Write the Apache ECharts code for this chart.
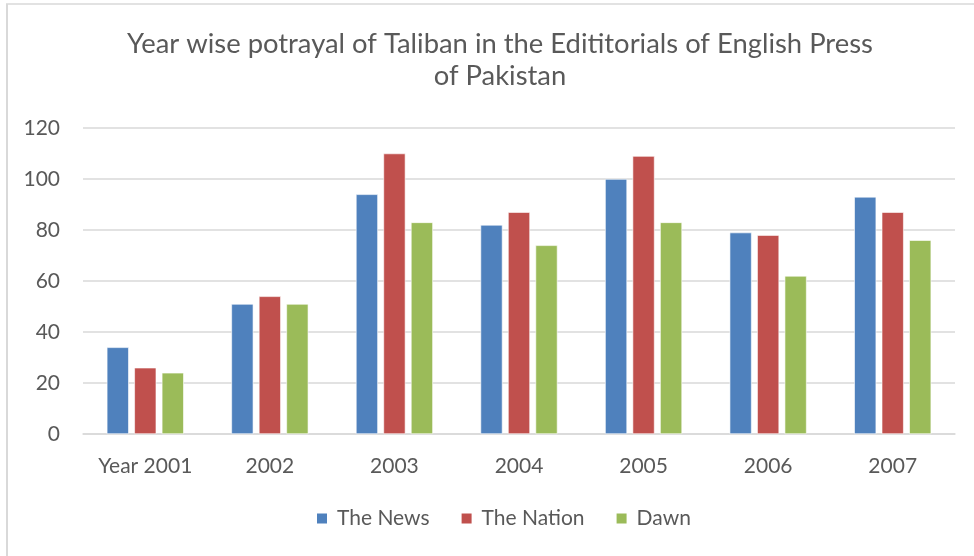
<!DOCTYPE html>
<html>
<head>
<meta charset="utf-8">
<script src="https://cdn.jsdelivr.net/npm/echarts@6/dist/echarts.min.js"></script>
<style>
  html, body { margin: 0; padding: 0; background: #fff; }
  #chart { width: 974px; height: 556px; }
</style>
</head>
<body>
<div id="chart"></div>
<script>
// categories and series
const years = ['Year 2001', '2002', '2003', '2004', '2005', '2006', '2007']
const theNews = [34, 51, 94, 82, 100, 79, 93]
const theNation = [26, 54, 110, 87, 109, 78, 87]
const dawn = [24, 51, 83, 74, 83, 62, 76]

const font = 'Lato, "Open Sans", sans-serif'
const textColor = '#595959'

const chart = echarts.init(document.getElementById('chart'))

const option = {
    animation: false,
    color: ['#4F81BD', '#C0504D', '#9BBB59'],
    title: {
        text: 'Year wise potrayal of Taliban in the Edititorials of English Press\nof Pakistan',
        left: 495,
        textAlign: 'center',
        top: 23,
        textStyle: {
            fontFamily: font,
            fontSize: 27.4,
            fontWeight: 'normal',
            color: textColor,
            lineHeight: 32
        }
    },
    legend: {
        bottom: 22,
        left: 310,
        itemWidth: 12,
        itemHeight: 12,
        itemGap: 30,
        icon: 'rect',
        textStyle: { fontFamily: font, fontSize: 21, color: textColor, padding: [0, 0, 0, 4] }
    },
    grid: { left: 83, right: 19, top: 128, bottom: 122 },
    xAxis: {
        type: 'category',
        data: years,
        axisLine: { lineStyle: { color: '#d9d9d9', width: 1.5 } },
        axisTick: { show: false },
        axisLabel: { fontFamily: font, fontSize: 21, color: textColor, margin: 22 }
    },
    yAxis: {
        type: 'value',
        min: 0,
        max: 120,
        interval: 20,
        axisLine: { show: false },
        axisTick: { show: false },
        splitLine: { lineStyle: { color: '#d9d9d9', width: 1.5 } },
        axisLabel: { fontFamily: font, fontSize: 21, color: textColor, margin: 23 }
    },
    series: [
        { name: 'The News', type: 'bar', data: theNews },
        { name: 'The Nation', type: 'bar', data: theNation },
        { name: 'Dawn', type: 'bar', data: dawn }
    ].map(s => Object.assign(s, {
        barWidth: 22,
        barGap: '25%',
        itemStyle: { borderColor: '#fff', borderWidth: 0.6 }
    })),
    graphic: [
        { type: 'line', shape: { x1: 7, y1: 4, x2: 7, y2: 556 }, style: { stroke: '#d9d9d9', lineWidth: 2 } },
        { type: 'line', shape: { x1: 6, y1: 4, x2: 974, y2: 4 }, style: { stroke: '#d9d9d9', lineWidth: 1.5 } }
    ]
}
chart.setOption(option)
</script>
</body>
</html>
